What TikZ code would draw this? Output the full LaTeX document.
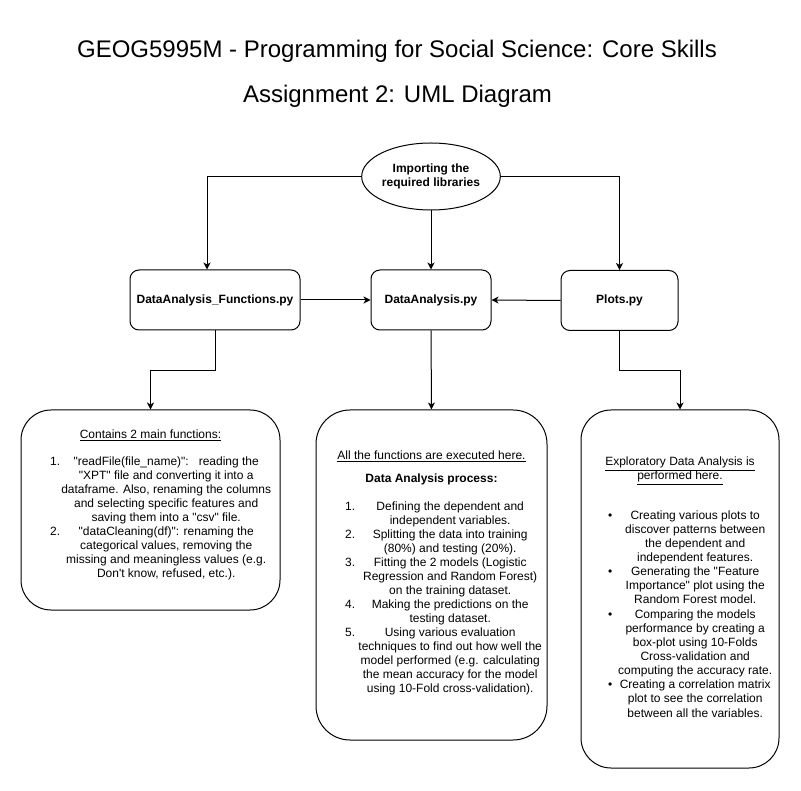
\documentclass[tikz,border=0pt]{standalone}
\usepackage{fontspec}
\setmainfont{Liberation Sans}
\usetikzlibrary{arrows.meta,shapes.geometric}
\newcommand{\itmline}[3]{\hbox to #1{\rlap{#2}\hss #3\hss}}
\newcommand{\txtblock}[1]{\vtop{\baselineskip=14pt\lineskiplimit=-100pt #1}}
\newcommand{\dq}{\textquotedbl}
\tikzset{
  basefont/.style={font=\fontsize{12}{14}\selectfont},
  filebox/.style={draw, line width=1pt, rounded corners=9pt, minimum height=60pt, inner sep=0pt, basefont, font=\fontsize{12}{14}\selectfont\bfseries},
  bigbox/.style={draw, line width=1pt, inner sep=0pt},
  txt/.style={inner sep=0pt, basefont},
  arr/.style={line width=1pt, -{Stealth[length=7pt,width=7pt,inset=2pt]}},
  titlefont/.style={inner sep=0pt, anchor=base, font=\fontsize{24}{28}\selectfont}
}
\begin{document}
\begin{tikzpicture}[x=1pt,y=-1pt]
\fill[white] (0,0) rectangle (801,791);
\useasboundingbox (0,0) rectangle (801,791);

\node[titlefont] (t1) at (397,58) {GEOG5995M - Programming for Social Science: Core Skills};
\node[titlefont] (t2) at (397.5,103) {Assignment 2: UML Diagram};

\node[draw, ellipse, line width=1pt, minimum width=121pt, minimum height=67pt, inner sep=0pt, align=center, font=\fontsize{12}{14}\selectfont\bfseries] (ell) at (431,176.5) {Importing the\\required libraries};

\node[filebox, minimum width=170pt] (b1) at (215,300) {DataAnalysis\_Functions.py};
\node[filebox, minimum width=120pt] (b2) at (431,300) {DataAnalysis.py};
\node[filebox, minimum width=117pt] (b3) at (619.5,300.5) {Plots.py};

\node[bigbox, rounded corners=30pt, minimum width=259pt, minimum height=200pt] (bA) at (150.5,510) {};
\node[bigbox, rounded corners=34pt, minimum width=231pt, minimum height=330pt] (bB) at (431.5,575) {};
\node[bigbox, rounded corners=30pt, minimum width=198pt, minimum height=358pt] (bC) at (680,589) {};

% connectors
\draw[arr] (ell.west) -| ([xshift=-8pt]b1.north);
\draw[arr] (ell.east) -| (b3.north);
\draw[arr] (ell.south) -- (b2.north);
\draw[arr] (b1.east) -- (b2.west);
\draw[arr] (b3.west) -- (b2.east);
\draw[arr] (b1.south) -- ++(0,40) -| (bA.north);
\draw[arr] (b2.south) -- (bB.north);
\draw[arr] (b3.south) -- ++(0,40) -| (bC.north);

% left box text
\node[txt, anchor=base] (hA) at (150.5,439) {\underline{Contains 2 main functions:}};
\node[txt, anchor=base west] (tA) at (50,466) {\txtblock{%
\itmline{232pt}{1.}{\dq readFile(file\_name)\dq:\ \ \ reading the}%
\itmline{232pt}{}{\dq XPT\dq\ file and converting it into a}%
\itmline{232pt}{}{dataframe. Also, renaming the columns}%
\itmline{232pt}{}{and selecting specific features and}%
\itmline{232pt}{}{saving them into a \dq csv\dq\ file.}%
\itmline{232pt}{2.}{\dq dataCleaning(df)\dq: renaming the}%
\itmline{232pt}{}{categorical values, removing the}%
\itmline{232pt}{}{missing and meaningless values (e.g.}%
\itmline{232pt}{}{Don\textquotesingle t know, refused, etc.).}%
}};

% middle box text
\node[txt, anchor=base] (hB) at (431.5,460) {\underline{All the functions are executed here.}};
\node[txt, anchor=base, font=\fontsize{12}{14}\selectfont\bfseries] (hB2) at (431.5,483) {Data Analysis process:};
\node[txt, anchor=base west] (tB) at (345,511) {\txtblock{%
\itmline{210pt}{1.}{Defining the dependent and}%
\itmline{210pt}{}{independent variables.}%
\itmline{210pt}{2.}{Splitting the data into training}%
\itmline{210pt}{}{(80\%) and testing (20\%).}%
\itmline{210pt}{3.}{Fitting the 2 models (Logistic}%
\itmline{210pt}{}{Regression and Random Forest)}%
\itmline{210pt}{}{on the training dataset.}%
\itmline{210pt}{4.}{Making the predictions on the}%
\itmline{210pt}{}{testing dataset.}%
\itmline{210pt}{5.}{Using various evaluation}%
\itmline{210pt}{}{techniques to find out how well the}%
\itmline{210pt}{}{model performed (e.g. calculating}%
\itmline{210pt}{}{the mean accuracy for the model}%
\itmline{210pt}{}{using 10-Fold cross-validation).}%
}};

% right box text
\node[txt, anchor=base] (hC) at (680,466) {\txtblock{%
\hbox to 0pt{\hss\underline{Exploratory Data Analysis is}\hss}%
\hbox to 0pt{\hss\underline{performed here.}\hss}%
}};
\node[txt, anchor=base west] (tC) at (608,519) {\vtop{\baselineskip=14.15pt\lineskiplimit=-100pt
\itmline{174pt}{\textbullet}{Creating various plots to}%
\itmline{174pt}{}{discover patterns between}%
\itmline{174pt}{}{the dependent and}%
\itmline{174pt}{}{independent features.}%
\itmline{174pt}{\textbullet}{Generating the \dq Feature}%
\itmline{174pt}{}{Importance\dq\ plot using the}%
\itmline{174pt}{}{Random Forest model.}%
\itmline{174pt}{\textbullet}{Comparing the models}%
\itmline{174pt}{}{performance by creating a}%
\itmline{174pt}{}{box-plot using 10-Folds}%
\itmline{174pt}{}{Cross-validation and}%
\itmline{174pt}{}{computing the accuracy rate.}%
\itmline{174pt}{\textbullet}{Creating a correlation matrix}%
\itmline{174pt}{}{plot to see the correlation}%
\itmline{174pt}{}{between all the variables.}%
}};
\end{tikzpicture}
\end{document}
